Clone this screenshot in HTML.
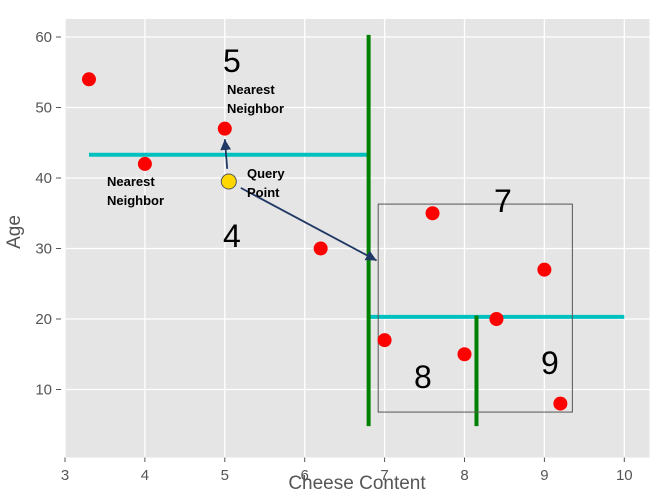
<!DOCTYPE html>
<html><head><meta charset="utf-8"><style>
body{margin:0;background:#fff}
svg text{font-family:"Liberation Sans","DejaVu Sans",sans-serif}
</style></head><body>
<svg id="c" width="660" height="492" xmlns="http://www.w3.org/2000/svg">
<defs><marker id="ah" markerWidth="8" markerHeight="8" refX="6" refY="3" orient="auto"><path d="M0,0 L6,3 L0,6 z" fill="#1f3864"/></marker></defs>
<rect x="64.5" y="19" width="585" height="438.5" fill="#e5e5e5"/>
<g id="grid"></g><g id="ticks"></g><g id="marks"></g>
<text x="357" y="489" font-size="19" fill="#555" text-anchor="middle">Cheese Content</text>
<text x="20" y="232" font-size="19" fill="#555" text-anchor="middle" transform="rotate(-90 20 232)">Age</text>
</svg>
<script>
const xTicks=[3,4,5,6,7,8,9,10];
const yTicks=[10,20,30,40,50,60];
const ptX=[3.3,4,5,6.2,7.6,9,7,8,8.4,9.2];
const ptY=[54,42,47,30,35,27,17,15,20,8];
const queryX=[5.05];const queryY=[39.5];
const X=v=>65+(v-3)*79.9, Y=v=>37+(60-v)*7.05;
const NS="http://www.w3.org/2000/svg";
function mk(t,a,p,txt){const e=document.createElementNS(NS,t);for(const k in a)e.setAttribute(k,a[k]);if(txt!==undefined)e.textContent=txt;document.getElementById(p).appendChild(e);return e;}
xTicks.forEach(v=>{
 let l=mk('line',{x1:X(v),x2:X(v),y1:19,y2:457.5,stroke:'#fff','stroke-width':1.3},'grid');
 
 
 let t=mk('text',{x:X(v),y:480,'font-size':15,fill:'#555','text-anchor':'middle'},'ticks',String(v));
 
 
 mk('line',{x1:X(v),x2:X(v),y1:457.5,y2:462,stroke:'#555'},'ticks');
});
yTicks.forEach(v=>{
 let l=mk('line',{x1:64.5,x2:649.5,y1:Y(v),y2:Y(v),stroke:'#fff','stroke-width':1.3},'grid');
 
 
 let t=mk('text',{x:52,y:Y(v)+5,'font-size':15,fill:'#555','text-anchor':'end'},'ticks',String(v));
 
 
 mk('line',{x1:56,x2:61,y1:Y(v),y2:Y(v),stroke:'#555'},'ticks');
});
function seg(x1,y1,x2,y2,col,w,name){let l=mk('line',{x1:X(x1),y1:Y(y1),x2:X(x2),y2:Y(y2),stroke:col,'stroke-width':w},'marks');return l;}
seg(3.3,43.3,6.8,43.3,'#00c0c0',4,'split-line-age-43');
seg(6.8,20.3,10,20.3,'#00c0c0',4,'split-line-age-20');
seg(6.8,4.8,6.8,60.3,'#008000',4,'split-line-cheese-6-8');
seg(8.15,4.8,8.15,20.5,'#008000',4,'split-line-cheese-8-15');
let r=mk('rect',{x:X(6.92),y:Y(36.3),width:X(9.35)-X(6.92),height:Y(6.8)-Y(36.3),fill:'none',stroke:'#555','stroke-width':1},'marks');


ptX.forEach((x,i)=>{let c=mk('circle',{cx:X(x),cy:Y(ptY[i]),r:7,fill:'#ff0000'},'marks');
 
 });
let a1=seg(5.03,41.3,5.0,45.5,'#1f3864',1.8,'arrow-to-neighbor');a1.setAttribute('marker-end','url(#ah)');
let a2=seg(5.2,38.6,6.9,28.3,'#1f3864',1.8,'arrow-to-box');a2.setAttribute('marker-end','url(#ah)');
queryX.forEach((x,i)=>{let q=mk('circle',{cx:X(x),cy:Y(queryY[i]),r:7.5,fill:'#ffd700',stroke:'#555','stroke-width':1},'marks');
 
 });
function lab(x,y,s,txt,name,bold){let t=mk('text',{x:x,y:y,'font-size':s,fill:'#000','font-weight':bold?'bold':'normal'},'marks',txt);}
lab(223,72,32,'5','region-label-5');
lab(223,247,32,'4','region-label-4');
lab(494,212,32,'7','region-label-7');
lab(414,388,32,'8','region-label-8');
lab(541,374,32,'9','region-label-9');
lab(227,94,13,'Nearest','nn-label-top',1);lab(227,113,13,'Neighbor','nn-label-top-2',1);
lab(107,186,13,'Nearest','nn-label-left',1);lab(107,205,13,'Neighbor','nn-label-left-2',1);
lab(247,178,13,'Query','query-label',1);lab(247,197,13,'Point','query-label-2',1);
</script>
</body></html>
